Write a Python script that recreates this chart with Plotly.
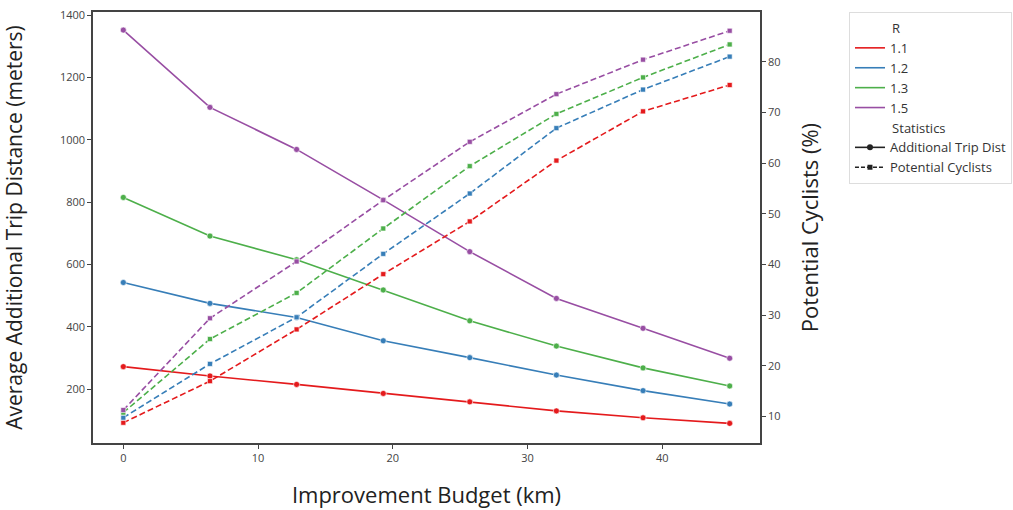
import numpy as np
import plotly.graph_objects as go

# Improvement budget (km) at each evaluation step
budget = [0, 6.43, 12.86, 19.29, 25.71, 32.14, 38.57, 45]

# Average additional trip distance (meters) per detour factor R
dist_11 = [272, 242, 215, 186, 159, 130, 108, 90]
dist_12 = [542, 475, 430, 355, 301, 245, 195, 152]
dist_13 = [815, 691, 615, 518, 419, 338, 268, 210]
dist_15 = [1352, 1104, 969, 807, 641, 491, 395, 299]

# Potential cyclists (%) per detour factor R
cyc_11 = [8.8, 17.0, 27.2, 38.1, 48.5, 60.5, 70.2, 75.4]
cyc_12 = [9.8, 20.4, 29.6, 42.1, 54.0, 66.9, 74.5, 81.0]
cyc_13 = [10.8, 25.3, 34.4, 47.1, 59.4, 69.7, 76.9, 83.4]
cyc_15 = [11.3, 29.4, 40.6, 52.7, 64.2, 73.6, 80.4, 86.1]

r_labels = ["1.1", "1.2", "1.3", "1.5"]
stat_labels = ["Additional Trip Dist", "Potential Cyclists"]
colors = ["#e41a1c", "#377eb8", "#4daf4a", "#984ea3"]

dist_series = [dist_11, dist_12, dist_13, dist_15]
cyc_series = [cyc_11, cyc_12, cyc_13, cyc_15]

FONT = "Open Sans"
TITLE_SIZE = 22
fig = go.Figure()

for col, d in zip(colors, dist_series):
    fig.add_trace(go.Scatter(
        x=budget, y=d, mode="lines+markers", showlegend=False,
        line=dict(color=col, width=1.6),
        marker=dict(symbol="circle", size=6, color=col,
                    line=dict(color="white", width=0.6)),
        yaxis="y"))

for col, c in zip(colors, cyc_series):
    fig.add_trace(go.Scatter(
        x=budget, y=c, mode="lines+markers", showlegend=False,
        line=dict(color=col, width=1.6, dash="6px,3px"),
        marker=dict(symbol="square", size=5, color=col,
                    line=dict(color="white", width=0.6)),
        yaxis="y2"))

# Legend entries: hue (R) and style (Statistics)
nb = "\u00a0" * 11
for i, (lab, col) in enumerate(zip(r_labels, colors)):
    fig.add_trace(go.Scatter(
        x=[None], y=[None], mode="lines", name=lab,
        line=dict(color=col, width=1.6),
        legendgroup="R",
        legendgrouptitle=dict(text=nb + "R") if i == 0 else None))

fig.add_trace(go.Scatter(
    x=[None], y=[None], mode="lines+markers", name=stat_labels[0],
    line=dict(color="#222", width=1.6),
    marker=dict(symbol="circle", size=6, color="#222"),
    legendgroup="S", legendgrouptitle=dict(text=nb + "Statistics")))
fig.add_trace(go.Scatter(
    x=[None], y=[None], mode="lines+markers", name=stat_labels[1],
    line=dict(color="#222", width=1.6, dash="4px,2px"),
    marker=dict(symbol="square", size=5, color="#222"),
    legendgroup="S"))

axis_common = dict(
    showline=True, linecolor="#444", linewidth=1.5,
    ticks="outside", ticklen=4, tickcolor="#444", tickwidth=1,
    tickfont=dict(family=FONT, size=11, color="#444"),
    showgrid=False, zeroline=False)

fig.update_layout(
    width=1013, height=510,
    margin=dict(l=93, r=253, t=12, b=67, autoexpand=False),
    paper_bgcolor="white", plot_bgcolor="white",
    xaxis=dict(range=[-2.25, 47.25], tickvals=[0, 10, 20, 30, 40],
               mirror=True,
               title=dict(text="Improvement Budget (km)", standoff=24,
                          font=dict(family=FONT, size=TITLE_SIZE, color="#222")),
               **axis_common),
    yaxis=dict(range=[27, 1410], tickvals=[200, 400, 600, 800, 1000, 1200, 1400],
               title=dict(text="Average Additional Trip Distance (meters)", standoff=33,
                          font=dict(family=FONT, size=21, color="#222")),
               **axis_common),
    yaxis2=dict(range=[4.8, 89.8], tickvals=[10, 20, 30, 40, 50, 60, 70, 80],
                overlaying="y", side="right",
                title=dict(text="Potential Cyclists (%)", standoff=23,
                           font=dict(family=FONT, size=TITLE_SIZE, color="#222")),
                **axis_common),
    legend=dict(x=1.1334, y=1.0, xanchor="left", yanchor="top",
                bordercolor="#ddd", borderwidth=1, bgcolor="white",
                font=dict(family=FONT, size=13, color="#333"),
                grouptitlefont=dict(family=FONT, size=13, color="#333"),
                tracegroupgap=0, itemwidth=30, traceorder="grouped"),
)

fig.write_html("out.html")
